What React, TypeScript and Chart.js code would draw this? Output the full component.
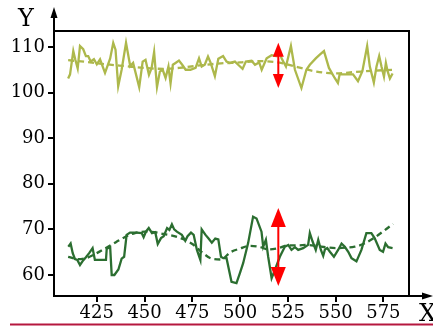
import { useEffect, useRef } from "react";
import { Chart, registerables } from "chart.js";
Chart.register(...registerables);

const topNoisyX = [410,411,412.7,413.7,415,416.2,417.9,419.3,420.5,421.8,423.5,425,426.7,429.3,432,433.6,434.8,436.2,438,440.3,442.5,444,447.2,449,450.5,452.3,453.7,455,456.5,458,459.5,461,462.5,463.6,464.8,466.2,468,469.7,471.5,474,476.7,478.5,479.9,481.5,483.2,484.6,486.8,488.6,491.1,492.9,494.6,497.3,499,501.3,503,506,507.8,510,511.3,513.9,516.5,519.1,520.3,521.7,524,526.6,528.7,532.1,534.7,536.5,539.6,541.7,543.9,546.5,549.5,551.2,552.1,555.6,559.1,561.7,564,566.5,567.9,570,571.4,572.8,574,575.3,576.3,577.2,578.4,579.8];
const topNoisyY = [103.1,104,109.1,107.3,105.3,110.2,109.5,108,108,106.8,107.3,106.2,107.3,104.3,107.5,110.9,109.4,101.4,105,110.9,105.8,106.5,101.2,106.8,107.2,103.9,105.4,108.9,101.2,104.6,105,103.2,105.7,102,106.1,106.5,107,106.1,105,105,105.4,107.5,105.7,106.1,107.9,106.5,103.6,107.4,108,106.8,106.5,106.8,106.1,105.2,106.8,107,106.1,106.6,105,107.5,108.2,108,109.2,107.5,105.7,110.2,105,101,105,106.1,107.5,108.3,109.1,105.4,103.2,102.1,104,104,104,102.5,104.7,110.2,105.7,102.2,105.7,108,105.7,103.5,106.5,104.7,103.1,104.2];

const topSmoothX = [410,420,430,440,450,460,470,480,490,500,510,520,530,540,550,560,570,580];
const topSmoothY = [107.1,106.7,106.2,105.8,105.4,105.2,105.5,106.0,106.4,106.6,106.9,106.6,105.6,104.6,104.2,104.5,104.8,105.0];

const bottomNoisyX = [410.1,411.3,412.4,413.6,414.8,416.2,417.5,419.3,421,422.8,424,426.7,429.8,430.2,432,432.8,434.2,436.3,438,439.3,440.6,442.4,445.9,448.5,449.5,450.7,452.2,453.9,455.6,456.9,458.6,460,461.8,463,464.3,465.5,466.9,469.5,471.3,472.5,474.3,475.7,477.4,479.2,479.9,481.9,483.5,485.2,487,488.6,490,491.2,492.9,495.5,498.1,499.9,501.6,504.2,506.8,508.6,511.2,512.1,513.5,514.7,516.5,518.2,520.8,523.4,525.2,526.9,528.7,530.4,533,535.6,536.5,537.9,539.6,540.9,542.3,543.5,544.4,545.6,547,549.1,551.3,553.1,554.8,556.6,558.3,560.9,563.5,566.1,568.7,570.4,573.1,574.8,576.1,577.5,579.8];
const bottomNoisyY = [66.2,66.9,64.8,63.5,63.3,62.2,63,63.9,64.8,65.9,63.3,63.3,63.3,65.8,66.1,60,60,61.2,63.6,64,68.8,69.3,69.3,69.2,68.3,69.5,70.3,69.2,69.4,66.8,68.1,68.5,70.3,69.9,71.1,70,69.5,68.8,67.5,68.5,69.3,68.8,65.5,63.3,70,68.8,68,67.1,68,67.8,64,63.7,63.7,58.5,58.2,60.4,62.6,67,72.8,72.4,69.5,66.2,67.7,64,59.3,61.1,64,66.2,66.6,65.5,66.1,65.5,65.9,66.6,69.2,67.4,65.5,67.7,65.5,64.2,65.6,65.9,65.1,64,65.5,66.9,66.2,65.1,63.7,63,65.5,69.2,69.2,68.1,65.5,65.1,66.9,66.1,65.9];

const bottomSmoothX = [410,415,420,425,430,435,440,445,450,455,460,465,470,475,480,485,490,495,500,505,510,515,520,525,530,535,540,545,550,555,560,565,570,575,580];
const bottomSmoothY = [64.0,63.5,63.8,64.8,66.0,67.2,68.4,69.2,69.5,69.4,69.0,68.6,67.9,66.8,65.0,63.6,63.4,65.0,65.8,66.4,66.2,65.6,65.9,66.5,66.5,66.6,66.4,66.1,65.9,66.0,66.2,66.9,68.1,69.6,71.2];

const xTicks = [425, 450, 475, 500, 525, 550, 575];
const yTicks = [60, 70, 80, 90, 100, 110];

const arrowX = [520, 520];
const arrowFromY = [101.0, 57.6];
const arrowToY = [110.9, 74.7];

const xAxisTitle = "X";
const yAxisTitle = "Y";

const LIGHT = "#adb84b";
const DARK = "#2b6e30";

function pts(xs: number[], ys: number[]) {
  return xs.map((x, i) => ({ x, y: ys[i] }));
}

const decorPlugin = {
  id: "decor",
  afterDatasetsDraw(chart: any) {
    const { ctx, scales } = chart;
    const xs = scales.x;
    const ys = scales.y;
    const heads = [
      { w: 11, h: 14 },
      { w: 15, h: 19 },
    ];
    ctx.save();
    ctx.fillStyle = "#ff0000";
    ctx.strokeStyle = "#ff0000";
    ctx.lineWidth = 2;
    for (let i = 0; i < arrowX.length; i++) {
      const px = xs.getPixelForValue(arrowX[i]);
      const yt = ys.getPixelForValue(arrowToY[i]);
      const yb = ys.getPixelForValue(arrowFromY[i]);
      const { w, h } = heads[i];
      ctx.beginPath();
      ctx.moveTo(px, yt + h - 1);
      ctx.lineTo(px, yb - h + 1);
      ctx.stroke();
      ctx.beginPath();
      ctx.moveTo(px, yt);
      ctx.lineTo(px - w / 2, yt + h);
      ctx.lineTo(px + w / 2, yt + h);
      ctx.closePath();
      ctx.fill();
      ctx.beginPath();
      ctx.moveTo(px, yb);
      ctx.lineTo(px - w / 2, yb - h);
      ctx.lineTo(px + w / 2, yb - h);
      ctx.closePath();
      ctx.fill();
    }
    ctx.restore();
  },
  afterDraw(chart: any) {
    const { ctx, chartArea } = chart;
    const { left, right, top, bottom } = chartArea;
    ctx.save();
    ctx.strokeStyle = "#000";
    ctx.fillStyle = "#000";
    ctx.lineWidth = 2;
    ctx.beginPath();
    ctx.moveTo(left, top);
    ctx.lineTo(right, top);
    ctx.lineTo(right, bottom);
    ctx.stroke();
    ctx.beginPath();
    ctx.moveTo(left, bottom + 1);
    ctx.lineTo(left, 14);
    ctx.stroke();
    ctx.beginPath();
    ctx.moveTo(left, 7);
    ctx.lineTo(left - 3.5, 18);
    ctx.lineTo(left + 3.5, 18);
    ctx.closePath();
    ctx.fill();
    ctx.beginPath();
    ctx.moveTo(left - 1, bottom);
    ctx.lineTo(426, bottom);
    ctx.stroke();
    ctx.beginPath();
    ctx.moveTo(433, bottom);
    ctx.lineTo(422, bottom - 3.5);
    ctx.lineTo(422, bottom + 3.5);
    ctx.closePath();
    ctx.fill();
    ctx.font = "24px 'DejaVu Serif'";
    ctx.textBaseline = "alphabetic";
    ctx.textAlign = "center";
    ctx.fillText(yAxisTitle, 26, 26);
    ctx.textAlign = "left";
    ctx.fillText(xAxisTitle, 419, 321);
    ctx.strokeStyle = "#b5173f";
    ctx.lineWidth = 2;
    ctx.beginPath();
    ctx.moveTo(10, 324.5);
    ctx.lineTo(433, 324.5);
    ctx.stroke();
    ctx.restore();
  },
};

export default function App() {
  const ref = useRef<HTMLCanvasElement | null>(null);
  useEffect(() => {
    if (!ref.current) return;
    const font = { family: "'DejaVu Serif'", size: 18 };
    const chart = new Chart(ref.current, {
      type: "line",
      data: {
        datasets: [
          { data: pts(topNoisyX, topNoisyY), borderColor: LIGHT, borderWidth: 2.3, pointRadius: 0, tension: 0 },
          { data: pts(topSmoothX, topSmoothY), borderColor: LIGHT, borderWidth: 2.3, borderDash: [6, 4], pointRadius: 0, cubicInterpolationMode: "monotone" },
          { data: pts(bottomNoisyX, bottomNoisyY), borderColor: DARK, borderWidth: 2.3, pointRadius: 0, tension: 0 },
          { data: pts(bottomSmoothX, bottomSmoothY), borderColor: DARK, borderWidth: 2.3, borderDash: [6, 4], pointRadius: 0, cubicInterpolationMode: "monotone" },
        ],
      } as any,
      options: {
        animation: false,
        responsive: false,
        devicePixelRatio: 1,
        layout: { padding: { top: 31, right: 24, left: 0, bottom: 0 } },
        plugins: { legend: { display: false }, tooltip: { enabled: false } },
        scales: {
          x: {
            type: "linear",
            min: 402.6,
            max: 588.4,
            afterBuildTicks: (s: any) => {
              s.ticks = xTicks.map((v) => ({ value: v }));
            },
            afterFit: (s: any) => {
              s.height = 33;
            },
            border: { display: false },
            grid: { drawOnChartArea: false, drawTicks: true, tickLength: 6, color: "#000", lineWidth: 2 },
            ticks: { font, color: "#000", padding: 1, maxRotation: 0, autoSkip: false, callback: (v: any) => String(v) },
          },
          y: {
            type: "linear",
            min: 55.4,
            max: 113.5,
            afterBuildTicks: (s: any) => {
              s.ticks = yTicks.map((v) => ({ value: v }));
            },
            afterFit: (s: any) => {
              s.width = 54;
            },
            border: { display: false },
            grid: { drawOnChartArea: false, drawTicks: true, tickLength: 6, color: "#000", lineWidth: 2 },
            ticks: { font, color: "#000", padding: 3, autoSkip: false, callback: (v: any) => String(v) },
          },
        },
      } as any,
      plugins: [decorPlugin],
    });
    return () => chart.destroy();
  }, []);
  return (
    <canvas
      ref={ref}
      width={433}
      height={329}
      style={{ position: "fixed", left: 0, top: 0, width: 433, height: 329, background: "#fff" }}
    />
  );
}
